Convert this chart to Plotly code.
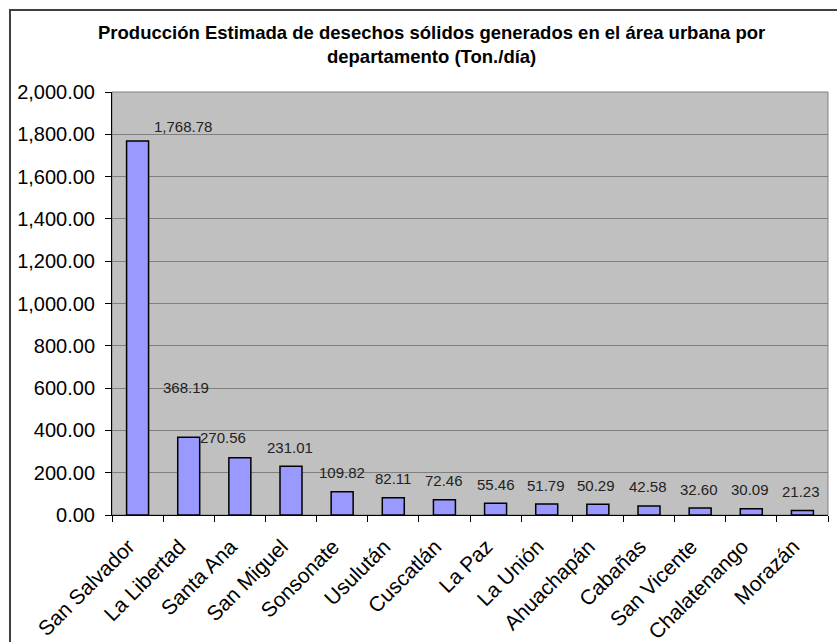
import plotly.graph_objects as go

# Departamentos y producción estimada (Ton./día)
departamentos = [
    "San Salvador", "La Libertad", "Santa Ana", "San Miguel", "Sonsonate",
    "Usulután", "Cuscatlán", "La Paz", "La Unión", "Ahuachapán",
    "Cabañas", "San Vicente", "Chalatenango", "Morazán",
]
toneladas = [
    1768.78, 368.19, 270.56, 231.01, 109.82,
    82.11, 72.46, 55.46, 51.79, 50.29,
    42.58, 32.60, 30.09, 21.23,
]

# Desplazamiento (px) de cada etiqueta respecto a la parte superior de su barra
label_dx = [45, -3, -17, -1, 0, 0, 0, 0, -1, -2, -1, -1, -1, -1]
label_dy = [14, 50, 20, 19, 19, 19, 19, 19, 19, 19, 19, 19, 19, 19]

W, H = 837, 642
L, R, T, B = 112, 9, 92, 127
FONT = "Liberation Sans, Arial, sans-serif"

fig = go.Figure()
fig.add_trace(go.Bar(
    x=departamentos,
    y=toneladas,
    marker=dict(color="#9999FF", line=dict(color="#000000", width=1.5)),
    hoverinfo="x+y",
))

annotations = []
for d, v, dx, dy in zip(departamentos, toneladas, label_dx, label_dy):
    annotations.append(dict(
        x=d, y=v, xref="x", yref="y",
        text=f"{v:,.2f}", showarrow=False,
        xanchor="center", yanchor="middle",
        xshift=dx, yshift=dy,
        font=dict(family=FONT, size=15, color="#222222"),
    ))

pw, ph = W - L - R, H - T - B
def px_x(p):
    return (p - L) / pw
def px_y(p):
    return (H - B - p) / ph

# Título del gráfico
annotations.append(dict(
    x=px_x(431), y=px_y(45),
    xref="paper", yref="paper",
    text="<b>Producción Estimada de desechos sólidos generados en el área urbana por"
         "<br>departamento (Ton./día)</b>",
    showarrow=False, xanchor="center", yanchor="middle", align="center",
    font=dict(family=FONT, size=18.5, color="#000000"),
))

# Marco exterior del gráfico y borde del área de trazado
shapes = [
    dict(type="line", xref="paper", yref="paper",
         x0=px_x(10), x1=px_x(10), y0=px_y(10), y1=px_y(700),
         line=dict(color="#404040", width=2)),
    dict(type="line", xref="paper", yref="paper",
         x0=px_x(9), x1=px_x(900), y0=px_y(10), y1=px_y(10),
         line=dict(color="#404040", width=2)),
    dict(type="rect", xref="paper", yref="paper", x0=0, x1=1, y0=0, y1=1,
         line=dict(color="#808080", width=1), layer="below"),
]

fig.update_layout(
    width=W, height=H,
    margin=dict(l=L, r=R, t=T, b=B, pad=0, autoexpand=False),
    paper_bgcolor="#FFFFFF",
    plot_bgcolor="#C0C0C0",
    bargap=0.57,
    showlegend=False,
    annotations=annotations,
    shapes=shapes,
    font=dict(family=FONT, color="#000000"),
)

fig.update_xaxes(
    type="category",
    automargin=False,
    tickangle=-45,
    tickson="boundaries",
    ticks="outside", ticklen=6, tickcolor="#000000", tickwidth=1,
    showline=True, linecolor="#000000", linewidth=1,
    showgrid=False,
    ticklabelstandoff=10,
    ticklabelshift=-9,
    tickfont=dict(family=FONT, size=21, color="#000000"),
)
fig.update_yaxes(
    range=[0, 2000],
    automargin=False,
    tickvals=[0, 200, 400, 600, 800, 1000, 1200, 1400, 1600, 1800, 2000],
    tickformat=",.2f",
    ticks="outside", ticklen=6, tickcolor="#000000", tickwidth=1,
    showline=True, linecolor="#000000", linewidth=1,
    showgrid=True, gridcolor="#808080", gridwidth=1,
    zeroline=False,
    ticklabelstandoff=6,
    tickfont=dict(family=FONT, size=20, color="#000000"),
)

fig.write_html("out.html")
